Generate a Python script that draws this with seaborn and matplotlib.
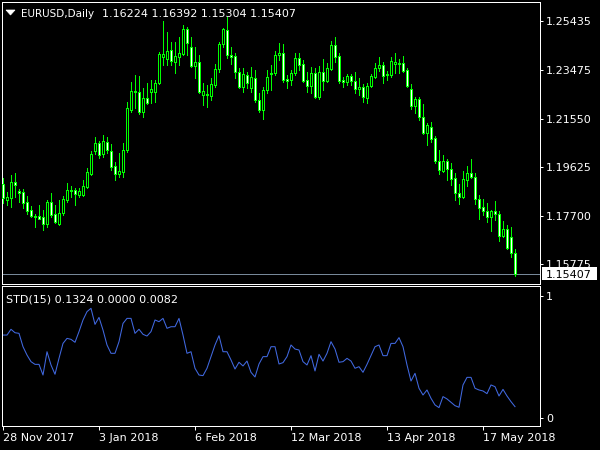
import numpy as np
import pandas as pd
import matplotlib
matplotlib.use("Agg")
import matplotlib.pyplot as plt
from matplotlib.patches import Rectangle, Polygon
import seaborn as sns

# ---------------- data ----------------
symbol_title = "EURUSD,Daily"
header_values = "1.16224 1.16392 1.15304 1.15407"
indicator_title = "STD(15) 0.1324 0.0000 0.0082"

opens = [1.1896, 1.1832, 1.1840, 1.1904, 1.1868, 1.1864, 1.1824, 1.1793, 1.1769, 1.1769,
         1.1765, 1.1737, 1.1824, 1.1777, 1.1737, 1.1781, 1.1832, 1.1868, 1.1872, 1.1852,
         1.1852, 1.1884, 1.1935, 1.2027, 1.2058, 1.2015, 1.2062, 1.2027, 1.1967, 1.1935,
         1.1943, 1.2031, 1.2189, 1.2261, 1.2261, 1.2181, 1.2237, 1.2261, 1.2261, 1.2296,
         1.2399, 1.2392, 1.2427, 1.2380, 1.2399, 1.2411, 1.2511, 1.2439, 1.2364, 1.2380,
         1.2249, 1.2249, 1.2245, 1.2288, 1.2352, 1.2451, 1.2507, 1.2407, 1.2403, 1.2340,
         1.2281, 1.2328, 1.2277, 1.2316, 1.2229, 1.2189, 1.2269, 1.2332, 1.2336, 1.2407,
         1.2415, 1.2312, 1.2308, 1.2336, 1.2396, 1.2372, 1.2308, 1.2285, 1.2336, 1.2241,
         1.2340, 1.2304, 1.2352, 1.2447, 1.2403, 1.2308, 1.2300, 1.2324, 1.2304, 1.2273,
         1.2281, 1.2237, 1.2285, 1.2320, 1.2356, 1.2368, 1.2332, 1.2328, 1.2372, 1.2376,
         1.2376, 1.2348, 1.2273, 1.2205, 1.2233, 1.2162, 1.2098, 1.2122, 1.2078, 1.1987,
         1.1947, 1.1987, 1.1955, 1.1920, 1.1860, 1.1844, 1.1912, 1.1939, 1.1924, 1.1836,
         1.1804, 1.1789, 1.1765, 1.1789, 1.1777, 1.1690, 1.1717, 1.1686, 1.16224]

highs = [1.1919, 1.1864, 1.1931, 1.1939, 1.1876, 1.1876, 1.1848, 1.1808, 1.1777, 1.1812,
         1.1793, 1.1832, 1.1860, 1.1812, 1.1832, 1.1848, 1.1900, 1.1888, 1.1880, 1.1880,
         1.1912, 1.1959, 1.2027, 1.2082, 1.2066, 1.2090, 1.2082, 1.2054, 1.1983, 1.2019,
         1.2058, 1.2221, 1.2300, 1.2328, 1.2324, 1.2277, 1.2296, 1.2308, 1.2308, 1.2419,
         1.2542, 1.2499, 1.2459, 1.2459, 1.2479, 1.2527, 1.2519, 1.2479, 1.2439, 1.2407,
         1.2296, 1.2288, 1.2316, 1.2372, 1.2459, 1.2515, 1.2558, 1.2439, 1.2415, 1.2356,
         1.2356, 1.2340, 1.2360, 1.2348, 1.2257, 1.2281, 1.2348, 1.2368, 1.2423, 1.2455,
         1.2451, 1.2328, 1.2348, 1.2415, 1.2415, 1.2388, 1.2340, 1.2360, 1.2356, 1.2364,
         1.2392, 1.2376, 1.2463, 1.2479, 1.2415, 1.2320, 1.2332, 1.2332, 1.2340, 1.2316,
         1.2292, 1.2296, 1.2332, 1.2376, 1.2399, 1.2380, 1.2344, 1.2399, 1.2415, 1.2392,
         1.2403, 1.2356, 1.2292, 1.2241, 1.2241, 1.2213, 1.2138, 1.2142, 1.2086, 1.2031,
         1.2011, 1.1995, 1.1979, 1.1939, 1.1896, 1.1947, 1.1967, 1.1995, 1.1939, 1.1852,
         1.1836, 1.1820, 1.1793, 1.1828, 1.1789, 1.1749, 1.1733, 1.1725, 1.16392]

lows = [1.1820, 1.1812, 1.1804, 1.1844, 1.1824, 1.1800, 1.1777, 1.1765, 1.1725, 1.1757,
        1.1713, 1.1725, 1.1765, 1.1741, 1.1733, 1.1773, 1.1824, 1.1844, 1.1812, 1.1844,
        1.1848, 1.1880, 1.1931, 1.2015, 1.1999, 1.2003, 1.2019, 1.1951, 1.1912, 1.1924,
        1.1924, 1.2023, 1.2181, 1.2197, 1.2173, 1.2162, 1.2213, 1.2217, 1.2221, 1.2292,
        1.2368, 1.2368, 1.2368, 1.2336, 1.2368, 1.2407, 1.2407, 1.2360, 1.2316, 1.2257,
        1.2209, 1.2201, 1.2229, 1.2281, 1.2340, 1.2439, 1.2396, 1.2372, 1.2316, 1.2277,
        1.2261, 1.2277, 1.2261, 1.2221, 1.2181, 1.2154, 1.2257, 1.2269, 1.2328, 1.2388,
        1.2300, 1.2277, 1.2288, 1.2328, 1.2348, 1.2300, 1.2261, 1.2257, 1.2237, 1.2233,
        1.2269, 1.2300, 1.2348, 1.2380, 1.2296, 1.2281, 1.2288, 1.2288, 1.2257, 1.2249,
        1.2221, 1.2217, 1.2281, 1.2316, 1.2344, 1.2296, 1.2308, 1.2320, 1.2336, 1.2336,
        1.2340, 1.2281, 1.2193, 1.2177, 1.2150, 1.2094, 1.2051, 1.2062, 1.1979, 1.1935,
        1.1943, 1.1912, 1.1892, 1.1832, 1.1816, 1.1840, 1.1888, 1.1920, 1.1816, 1.1757,
        1.1773, 1.1745, 1.1709, 1.1753, 1.1670, 1.1686, 1.1638, 1.1606, 1.15304]

closes = [1.1840, 1.1844, 1.1904, 1.1892, 1.1860, 1.1820, 1.1789, 1.1769, 1.1765, 1.1757,
          1.1737, 1.1824, 1.1773, 1.1745, 1.1781, 1.1836, 1.1872, 1.1872, 1.1856, 1.1868,
          1.1888, 1.1943, 1.2015, 1.2058, 1.2011, 1.2066, 1.2031, 1.1963, 1.1935, 1.1947,
          1.2031, 1.2197, 1.2265, 1.2265, 1.2181, 1.2237, 1.2217, 1.2273, 1.2296, 1.2411,
          1.2411, 1.2423, 1.2384, 1.2403, 1.2415, 1.2511, 1.2455, 1.2364, 1.2380, 1.2261,
          1.2265, 1.2253, 1.2292, 1.2352, 1.2451, 1.2511, 1.2407, 1.2399, 1.2340, 1.2281,
          1.2332, 1.2296, 1.2320, 1.2229, 1.2189, 1.2269, 1.2320, 1.2336, 1.2407, 1.2415,
          1.2308, 1.2304, 1.2336, 1.2396, 1.2368, 1.2304, 1.2285, 1.2336, 1.2241, 1.2340,
          1.2304, 1.2356, 1.2447, 1.2399, 1.2304, 1.2300, 1.2324, 1.2304, 1.2273, 1.2281,
          1.2241, 1.2285, 1.2324, 1.2356, 1.2368, 1.2324, 1.2328, 1.2384, 1.2380, 1.2372,
          1.2344, 1.2285, 1.2205, 1.2233, 1.2162, 1.2098, 1.2130, 1.2074, 1.1987, 1.1951,
          1.1987, 1.1955, 1.1916, 1.1860, 1.1844, 1.1916, 1.1939, 1.1924, 1.1836, 1.1800,
          1.1789, 1.1765, 1.1789, 1.1777, 1.1690, 1.1717, 1.1642, 1.1622, 1.15407]

std_values = [0.679, 0.679, 0.726, 0.698, 0.693, 0.584, 0.516, 0.462, 0.440, 0.440,
              0.353, 0.543, 0.435, 0.359, 0.489, 0.611, 0.652, 0.644, 0.620, 0.707,
              0.802, 0.870, 0.897, 0.766, 0.823, 0.720, 0.598, 0.530, 0.530, 0.625,
              0.774, 0.815, 0.815, 0.693, 0.726, 0.685, 0.671, 0.707, 0.802, 0.788,
              0.815, 0.734, 0.747, 0.747, 0.815, 0.679, 0.530, 0.543, 0.408, 0.353,
              0.348, 0.408, 0.503, 0.598, 0.674, 0.543, 0.543, 0.476, 0.402, 0.457,
              0.427, 0.467, 0.375, 0.337, 0.443, 0.503, 0.503, 0.584, 0.584, 0.443,
              0.454, 0.503, 0.598, 0.565, 0.557, 0.462, 0.435, 0.511, 0.386, 0.522,
              0.467, 0.530, 0.625, 0.565, 0.457, 0.462, 0.489, 0.467, 0.408, 0.421,
              0.375, 0.440, 0.511, 0.584, 0.598, 0.511, 0.511, 0.611, 0.611, 0.658,
              0.584, 0.435, 0.304, 0.367, 0.245, 0.190, 0.231, 0.163, 0.109, 0.087,
              0.177, 0.158, 0.130, 0.103, 0.090, 0.272, 0.334, 0.334, 0.245, 0.231,
              0.223, 0.201, 0.272, 0.258, 0.182, 0.236, 0.182, 0.136, 0.095]

price_ticks = [1.25435, 1.23475, 1.21550, 1.19625, 1.17700, 1.15775]
indicator_ticks = [0, 1]
date_tick_bars = [0, 24, 48, 72, 96, 120]
date_tick_labels = ["28 Nov 2017", "3 Jan 2018", "6 Feb 2018",
                    "12 Mar 2018", "13 Apr 2018", "17 May 2018"]

# ---------------- styling ----------------
GREEN = "#00FF00"
BLUE = "#4169E1"
GRAY = "#778899"
W, H = 600, 450
LW = 0.72  # one pixel

plt.rcParams["font.family"] = ["DejaVu Sans"]

df = pd.DataFrame({"bar": np.arange(len(opens)), "open": opens, "high": highs,
                   "low": lows, "close": closes, "std": std_values})


def fx(px):
    return px / W


def fy(py):
    return 1 - py / H


fig = plt.figure(figsize=(W / 100, H / 100), dpi=100, facecolor="black")

ax = fig.add_axes([fx(2), fy(284), (540 - 2) / W, (284 - 2) / H], facecolor="black")
ax2 = fig.add_axes([fx(2), fy(426), (540 - 2) / W, (426 - 286) / H], facecolor="black")

# ---- candles ----
bull = df["close"] >= df["open"]
ax.vlines(df["bar"], df["low"], df["high"], color=GREEN, lw=LW,
          antialiased=False, zorder=2)
ax.bar(df["bar"][bull], (df["close"] - df["open"])[bull], bottom=df["open"][bull],
       width=0.5, color="black", edgecolor=GREEN, linewidth=LW, zorder=3,
       antialiased=False)
ax.bar(df["bar"][~bull], (df["close"] - df["open"])[~bull], bottom=df["open"][~bull],
       width=0.5, color="white", edgecolor=GREEN, linewidth=LW, zorder=3,
       antialiased=False)
ax.axhline(closes[-1], color=GRAY, lw=LW, zorder=1)

ax.set_xlim(-0.25, -0.25 + 538 / 4)
ax.set_ylim(1.26256 - 0.0003966 * 284, 1.26256 - 0.0003966 * 2)

# ---- indicator ----
sns.lineplot(data=df, x="bar", y="std", ax=ax2, color=BLUE, lw=0.75, legend=False)
ax2.set_xlim(-0.25, -0.25 + 538 / 4)
ax2.set_ylim((418.3 - 426) / 122.6, (418.3 - 286) / 122.6)

for a in (ax, ax2):
    for s in a.spines.values():
        s.set_color("white")
        s.set_linewidth(LW)
    a.set_xlabel("")
    a.set_ylabel("")
    a.yaxis.tick_right()
    a.tick_params(axis="y", colors="white", length=2.2, width=LW, pad=2.2,
                  labelsize=8, labelcolor="white")

ax.set_yticks(price_ticks)
ax.set_yticklabels([f"{v:.5f}" for v in price_ticks])
ax.set_xticks([])

ax2.set_yticks(indicator_ticks)
ax2.set_yticklabels([str(v) for v in indicator_ticks])
ax2.set_xticks(date_tick_bars)
ax2.set_xticklabels(date_tick_labels, ha="left")
ax2.tick_params(axis="x", colors="white", length=2.9, width=LW, pad=1.9,
                labelsize=8, labelcolor="white")

# ---- header texts ----
fig.add_artist(Polygon([[fx(6), fy(10)], [fx(15), fy(10)], [fx(10.5), fy(15)]],
                       closed=True, facecolor="white", edgecolor="white", lw=0.5,
                       transform=fig.transFigure))
fig.text(fx(20.5), fy(16.8), symbol_title, color="white", fontsize=7.5, va="baseline")
fig.text(fx(101.5), fy(16.8), header_values, color="white", fontsize=8, va="baseline")
fig.text(fx(6.5), fy(302.3), indicator_title, color="white", fontsize=8, va="baseline")

# ---- current price box ----
fig.add_artist(Rectangle((fx(541.5), fy(280.3)), (596.7 - 541.5) / W, 13.6 / H,
                         facecolor="white", edgecolor="none",
                         transform=fig.transFigure, zorder=5))
fig.text(fx(545.5), fy(278.4), f"{closes[-1]:.5f}", color="black", fontsize=8,
         va="baseline", zorder=6)

fig.savefig("out.png", dpi=100, facecolor="black")
